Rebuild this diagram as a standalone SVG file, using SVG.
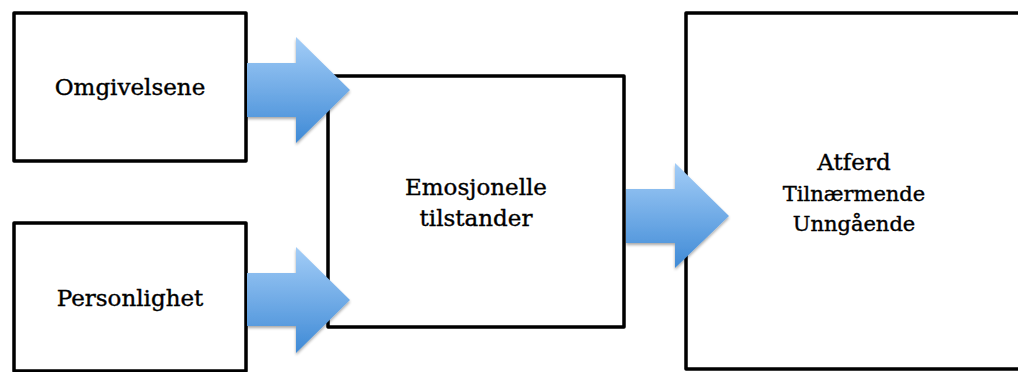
<svg xmlns="http://www.w3.org/2000/svg" width="1018" height="372" viewBox="0 0 1018 372">
  <defs>
    <linearGradient id="blue" x1="0" y1="0" x2="0" y2="1">
      <stop offset="0" stop-color="#a3cdf7"/>
      <stop offset="1" stop-color="#3f8ad6"/>
    </linearGradient>
    <filter id="sh" x="-20%" y="-20%" width="140%" height="140%">
      <feGaussianBlur in="SourceAlpha" stdDeviation="1.5"/>
      <feOffset dx="0" dy="1.5" result="b"/>
      <feComponentTransfer><feFuncA type="linear" slope="0.35"/></feComponentTransfer>
      <feMerge><feMergeNode/><feMergeNode in="SourceGraphic"/></feMerge>
    </filter>
  </defs>
  <style>
    .box { fill: #ffffff; stroke: #000000; stroke-width: 3.5; stroke-linejoin: round; }
    .lbl { font-family: "DejaVu Serif", "Liberation Serif", serif; font-size: 23px; fill: #000000; stroke: #000000; stroke-width: 0.4; text-anchor: middle; }
    .sm { font-size: 21px; }
    .arrow { fill: url(#blue); filter: url(#sh); }
  </style>
  <rect width="1018" height="372" fill="#ffffff"/>
  <g id="omgivelsene">
    <rect class="box" x="14" y="13" width="232" height="148"/>
    <text class="lbl" x="130" y="95">Omgivelsene</text>
  </g>
  <g id="personlighet">
    <rect class="box" x="14" y="223" width="232" height="148"/>
    <text class="lbl" x="130" y="306">Personlighet</text>
  </g>
  <g id="emosjonelle">
    <rect class="box" x="328" y="76" width="296" height="251"/>
    <text class="lbl" x="476" y="195">Emosjonelle</text>
    <text class="lbl" x="476" y="226">tilstander</text>
  </g>
  <g id="atferd">
    <rect class="box" x="686" y="13" width="360" height="356"/>
    <text class="lbl" x="854" y="170">Atferd</text>
    <text class="lbl sm" x="854" y="201">Tilnærmende</text>
    <text class="lbl sm" x="854" y="231">Unngående</text>
  </g>
  <g id="connectors">
    <polygon class="arrow" points="247,63 296,63 296,37 350,90 296,143 296,117 247,117"/>
    <polygon class="arrow" points="247,273 296,273 296,247 350,300 296,353 296,326 247,326"/>
    <polygon class="arrow" points="626,189 675,189 675,163 729,216 675,268 675,243 626,243"/>
  </g>
</svg>
